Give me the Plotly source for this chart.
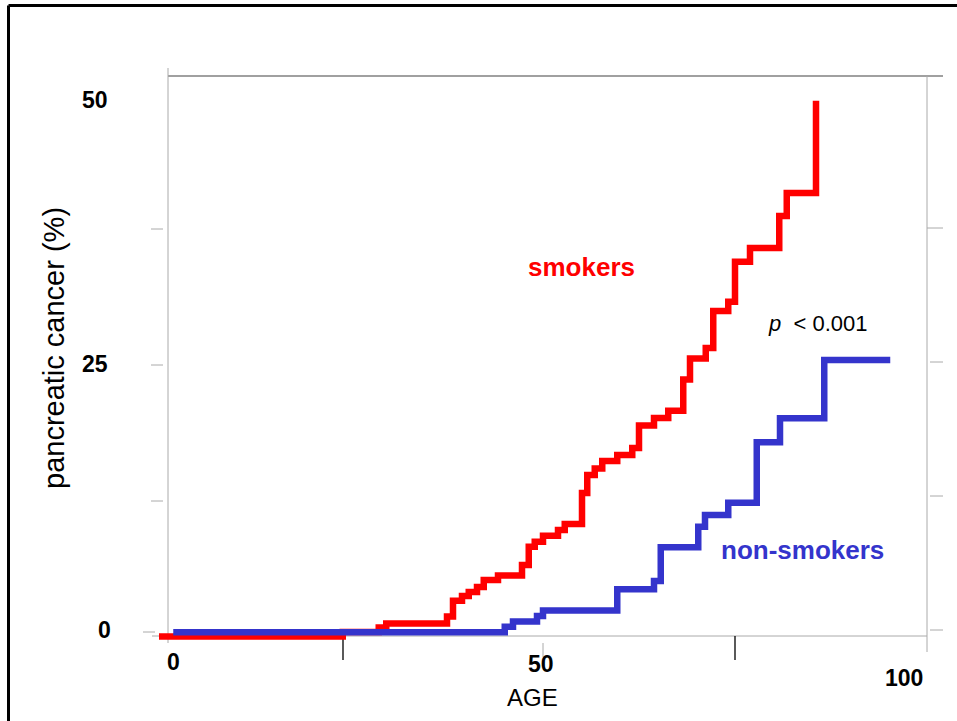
import plotly.graph_objects as go

# ---- data ----
smokers_age = [-1.2, 23.3, 28.1, 29.1, 37.2, 38.0, 39.2, 40.1, 41.2, 42.1, 44.0,
               47.2, 48.1, 48.9, 50.0, 52.0, 52.9, 55.2, 55.9, 56.9, 57.9, 59.9,
               61.9, 62.8, 64.8, 66.7, 68.7, 69.6, 71.7, 72.7, 74.7, 75.6, 77.6,
               81.5, 82.5, 86.4]
smokers_pct = [-0.23, 0.19, 0.61, 0.98, 1.63, 3.11, 3.54, 3.92, 4.38, 5.04, 5.46,
               6.44, 8.14, 8.61, 9.17, 9.70, 10.26, 13.15, 14.83, 15.44, 16.14, 16.70,
               17.35, 19.45, 20.15, 20.83, 23.74, 25.70, 26.68, 30.13, 31.0, 34.73, 36.01,
               39.0, 41.14, 49.75]

nonsmokers_age = [0.7, 44.9, 46.0, 49.2, 50.0, 59.9, 64.8, 65.7, 70.7, 71.6, 74.7,
                  78.5, 81.6, 87.5, 96.3]
nonsmokers_pct = [0.16, 0.68, 1.17, 1.68, 2.19, 4.17, 4.94, 8.09, 10.01, 11.10, 12.25,
                  17.88, 20.12, 25.56, 25.56]

x_tick_labels = ["0", "50", "100"]
y_tick_labels = ["50", "25", "0"]

# ---- layout geometry (screen pixels; page margin removed by post_script) ----
W, H = 957, 721
L, R, T, B = 150, 945, 60, 660          # plot area in pixels
X0PX, XSCALE = 168, 7.5                 # age 0 at 168 px, 7.5 px per year
Y0PX, YSCALE = 634, 10.72               # 0 % at 634 px, 10.72 px per percent

xrange = [(L - X0PX) / XSCALE, (R - X0PX) / XSCALE]
yrange = [(Y0PX - B) / YSCALE, (Y0PX - T) / YSCALE]


def px(x):
    return (x - L) / (R - L)


def py(y):
    return (B - y) / (B - T)


RED = "#ff0000"
BLUE = "#3434cc"
FONT = "Liberation Sans, Arial, sans-serif"

fig = go.Figure()
fig.add_trace(go.Scatter(x=smokers_age, y=smokers_pct, mode="lines",
                         line=dict(color=RED, width=6.5, shape="hv"),
                         name="smokers", showlegend=False, hoverinfo="skip"))
fig.add_trace(go.Scatter(x=nonsmokers_age, y=nonsmokers_pct, mode="lines",
                         line=dict(color=BLUE, width=6.5, shape="hv"),
                         name="non-smokers", showlegend=False, hoverinfo="skip"))

shapes = []


def seg(x0, y0, x1, y1, color="#aaaaaa", width=1):
    shapes.append(dict(type="line", xref="paper", yref="paper",
                       x0=px(x0), y0=py(y0), x1=px(x1), y1=py(y1),
                       line=dict(color=color, width=width), layer="below"))


# outer black frame
seg(8.5, 5.5, 970, 5.5, color="black", width=3)
seg(8.5, 5.5, 8.5, 735, color="black", width=3)
# plot frame
seg(168, 76, 943, 76, color="#808080", width=1.3)
seg(168, 68, 168, 636)
seg(927, 76, 927, 652)
seg(152, 636, 927, 636)
# left ticks
for yy in (229, 365, 501):
    seg(151, yy, 163, yy)
seg(143, 632, 155, 632)
# right ticks
seg(927, 228, 943, 228)
for yy in (362, 496, 630):
    seg(930, yy, 943, yy)
# bottom ticks
seg(168, 636, 168, 643)
seg(543, 643, 543, 657)
seg(343, 636, 343, 660, color="black", width=1.3)
seg(735, 636, 735, 660, color="black", width=1.3)

annotations = []


def txt(text, x, y, size, color="black", bold=False, angle=0):
    if bold:
        text = "<b>" + text + "</b>"
    annotations.append(dict(text=text, xref="paper", yref="paper",
                            x=px(x), y=py(y), xanchor="center", yanchor="middle",
                            showarrow=False, textangle=angle,
                            font=dict(family=FONT, size=size, color=color)))


# tick labels
for lab, (xx, yy) in zip(y_tick_labels, [(95, 100), (95, 364), (104, 630)]):
    txt(lab, xx, yy, 23, bold=True)
for lab, (xx, yy) in zip(x_tick_labels, [(173, 662), (541, 664), (904, 678)]):
    txt(lab, xx, yy, 23, bold=True)

txt("AGE", 532, 697, 24)
txt("pancreatic cancer (%)", 54, 348, 29, angle=-90)
txt("smokers", 581, 267, 26, color=RED, bold=True)
txt("non-smokers", 802, 550, 26, color=BLUE, bold=True)
txt("<i>p</i>\u00a0\u00a0< 0.001", 818, 323, 22)

fig.update_layout(
    width=W, height=H,
    margin=dict(l=L, r=W - R, t=T, b=H - B, pad=0),
    paper_bgcolor="white", plot_bgcolor="white",
    xaxis=dict(range=xrange, visible=False, showgrid=False, zeroline=False),
    yaxis=dict(range=yrange, visible=False, showgrid=False, zeroline=False),
    shapes=shapes, annotations=annotations,
    showlegend=False, hovermode=False,
)

fig.write_html("out.html",
               config={"displayModeBar": False, "staticPlot": True},
               post_script="document.body.style.margin='0';"
                           "document.body.style.overflow='hidden';")
